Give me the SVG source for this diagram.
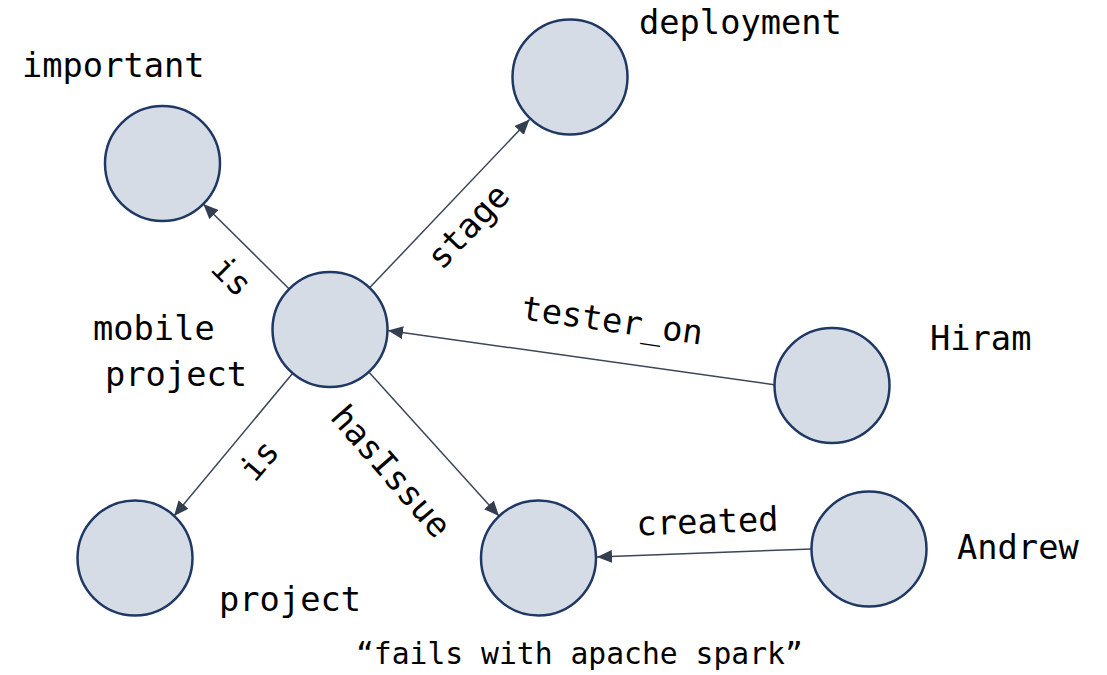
<svg xmlns="http://www.w3.org/2000/svg" width="1107" height="675" viewBox="0 0 1107 675">
<style>
.node{fill:#d6dce5;stroke:#203864;stroke-width:2.5}
.edge{stroke:#3b4658;stroke-width:1.5;fill:none}
text{font-family:"DejaVu Sans Mono","Liberation Mono",monospace;font-size:33.7px;fill:#000}
.cap{font-size:29.7px}
.lbl{text-anchor:middle}
</style>
<defs>
<marker id="arr" markerWidth="16" markerHeight="13" refX="15" refY="6.5" orient="auto" markerUnits="userSpaceOnUse">
<path d="M0,0 L15,6.5 L0,13 z" fill="#333f50"/>
</marker>
</defs>
<rect width="1107" height="675" fill="#fff"/>
<g id="connectors">
<line class="edge" x1="289.2" y1="289" x2="203.3" y2="204" marker-end="url(#arr)"/>
<line class="edge" x1="369.6" y1="287.8" x2="529.5" y2="119.5" marker-end="url(#arr)"/>
<line class="edge" x1="776" y1="385" x2="388" y2="330.5" marker-end="url(#arr)"/>
<line class="edge" x1="368.8" y1="372" x2="499" y2="516" marker-end="url(#arr)"/>
<line class="edge" x1="292.7" y1="373.2" x2="174" y2="516" marker-end="url(#arr)"/>
<line class="edge" x1="812" y1="549" x2="597" y2="557" marker-end="url(#arr)"/>
<text class="lbl" transform="translate(230,278) rotate(45)" x="0" y="9">is</text>
<text class="lbl" transform="translate(470,228) rotate(-46.5)" x="0" y="9">stage</text>
<text class="lbl" transform="translate(612,323) rotate(8)" x="0" y="9">tester_on</text>
<text class="lbl" transform="translate(389,473) rotate(49)" x="0" y="9">hasIssue</text>
<text class="lbl" transform="translate(261,462) rotate(-49.5)" x="0" y="9">is</text>
<text class="lbl" transform="translate(707.5,524) rotate(-2)" x="0" y="9">created</text>
</g>
<g id="n-important">
<circle class="node" cx="162.5" cy="163.5" r="57.5"/>
<text x="22" y="77">important</text>
</g>
<g id="n-deployment">
<circle class="node" cx="570" cy="77" r="57.5"/>
<text x="639" y="34">deployment</text>
</g>
<g id="n-mobile">
<circle class="node" cx="330" cy="329.5" r="57.5"/>
<text x="93" y="340">mobile</text>
<text x="105" y="386">project</text>
</g>
<g id="n-project">
<circle class="node" cx="135" cy="558" r="57.5"/>
<text x="219" y="611">project</text>
</g>
<g id="n-hiram">
<circle class="node" cx="832" cy="385.5" r="57.5"/>
<text x="930" y="350">Hiram</text>
</g>
<g id="n-andrew">
<circle class="node" cx="869" cy="549" r="57.5"/>
<text x="957" y="559">Andrew</text>
</g>
<g id="n-issue">
<circle class="node" cx="538.5" cy="558" r="57.5"/>
<text class="cap" x="356" y="664">“fails with apache spark”</text>
</g>
</svg>
